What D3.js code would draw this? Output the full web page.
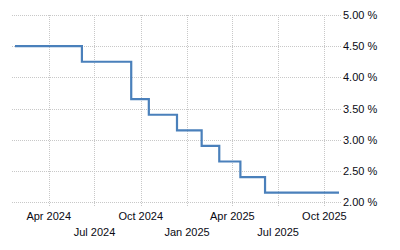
<!DOCTYPE html>
<html>
<head>
<meta charset="utf-8">
<script src="https://cdn.jsdelivr.net/npm/d3@7"></script>
<style>
  body { margin: 0; background: #fff; }
  svg { display: block; }
  .lbl { font-family: "Liberation Sans", Arial, sans-serif; font-size: 11px; fill: #0a0a14; }
</style>
</head>
<body>
<svg id="chart" width="400" height="250"></svg>
<script>
// ECB rate decisions (decision date, rate in %)
var dates = ["2024-01-25", "2024-03-07", "2024-04-11", "2024-06-06", "2024-07-18",
             "2024-09-12", "2024-10-17", "2024-12-12", "2025-01-30", "2025-03-06",
             "2025-04-17", "2025-06-05", "2025-07-24", "2025-09-11", "2025-10-30"];
var rates = [4.50, 4.50, 4.50, 4.25, 4.25, 3.65, 3.40, 3.15, 2.90, 2.65, 2.40, 2.15, 2.15, 2.15, 2.15];
var yTicks = [2.0, 2.5, 3.0, 3.5, 4.0, 4.5, 5.0];
var xTicks = ["2024-04-01", "2024-07-01", "2024-10-01", "2025-01-01", "2025-04-01", "2025-07-01", "2025-10-01"];

document.addEventListener("DOMContentLoaded", function () {
    var svg = d3.select("#chart");
    var parse = d3.timeParse("%Y-%m-%d");

    var data = dates.map(function (d, i) { return { date: parse(d), value: rates[i] }; });

    var xScale = d3.scaleTime()
        .domain([parse(dates[0]), parse(dates[dates.length - 1])])
        .range([15, 339]);
    var yScale = d3.scaleLinear().domain([2, 5]).range([202, 15]);

    var gridLeft = 12, gridRight = 341;

    // horizontal grid lines
    svg.append("g").selectAll("line")
        .data(yTicks)
        .enter().append("line")
        .attr("x1", gridLeft).attr("x2", gridRight)
        .attr("y1", function (d) { return Math.round(yScale(d)) + 0.5; })
        .attr("y2", function (d) { return Math.round(yScale(d)) + 0.5; })
        .attr("stroke", "#c8c8c8")
        .attr("stroke-dasharray", "1,1");

    // vertical grid lines
    svg.append("g").selectAll("line")
        .data(xTicks)
        .enter().append("line")
        .attr("x1", function (d) { return Math.round(xScale(parse(d))) + 0.5; })
        .attr("x2", function (d) { return Math.round(xScale(parse(d))) + 0.5; })
        .attr("y1", yScale(5)).attr("y2", yScale(2) + 4)
        .attr("stroke", "#c8c8c8")
        .attr("stroke-dasharray", "1,1");

    // y labels
    svg.append("g").selectAll("text")
        .data(yTicks)
        .enter().append("text")
        .attr("class", "lbl")
        .attr("x", 343)
        .attr("y", function (d) { return yScale(d) + 4; })
        .text(function (d) { return d.toFixed(2) + " %"; });

    // x labels, staggered
    var fmt = d3.timeFormat("%b %Y");
    svg.append("g").selectAll("text")
        .data(xTicks)
        .enter().append("text")
        .attr("class", "lbl")
        .attr("text-anchor", "middle")
        .attr("x", function (d) { return xScale(parse(d)); })
        .attr("y", function (d, i) { return i % 2 === 0 ? 220 : 236; })
        .text(function (d) { return fmt(parse(d)); });

    var line = d3.line()
        .x(function (d) { return xScale(d.date); })
        .y(function (d) { return yScale(d.value); })
        .curve(d3.curveStepAfter);

    svg.append("path")
        .datum(data)
        .attr("d", line)
        .attr("fill", "none")
        .attr("stroke", "#4a80bb")
        .attr("stroke-width", 2.2);
});
</script>
</body>
</html>
